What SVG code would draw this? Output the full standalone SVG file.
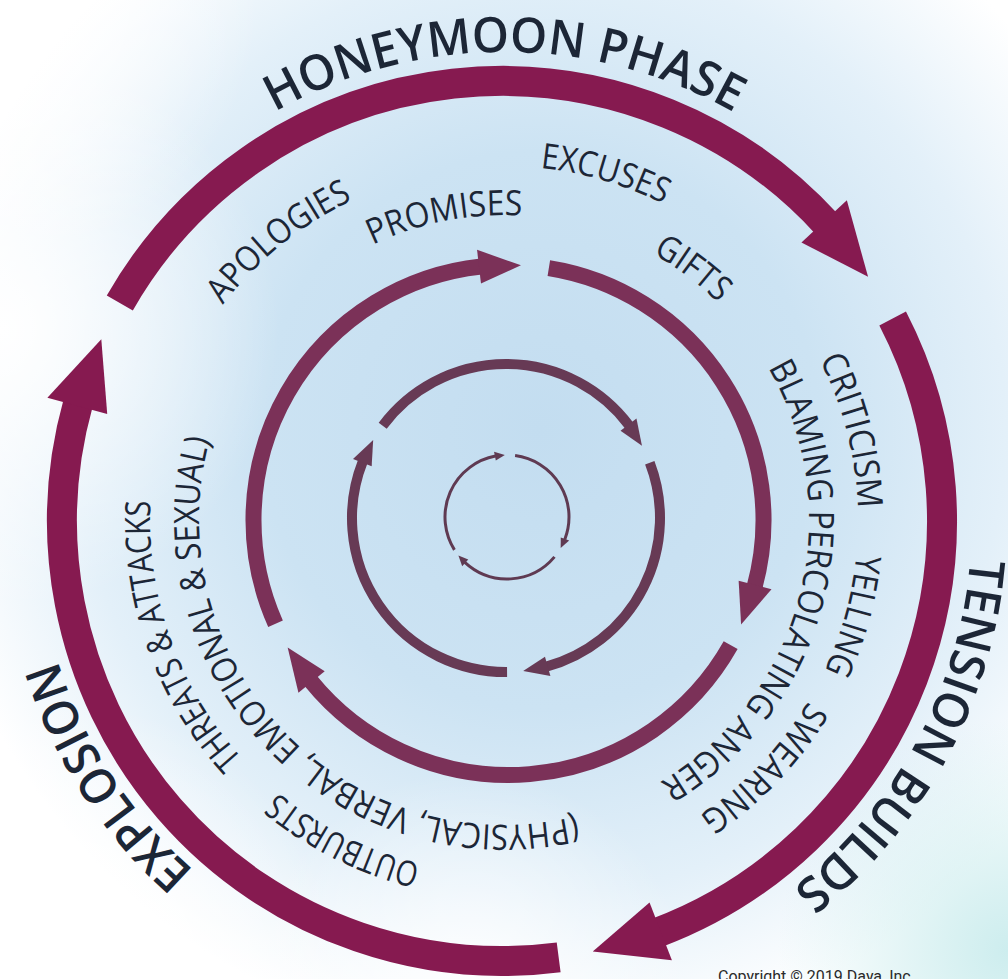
<svg xmlns="http://www.w3.org/2000/svg" xmlns:xlink="http://www.w3.org/1999/xlink" width="1008" height="979" viewBox="0 0 1008 979">
<style>
.o{fill:none;stroke:#861A50;stroke-width:30;stroke-linecap:butt}
.oh{fill:#861A50}
.r3{fill:none;stroke:#7B3158;stroke-width:16;stroke-linecap:butt}
.r3h{fill:#7B3158}
.r2{fill:none;stroke:#673A55;stroke-width:10;stroke-linecap:butt}
.r2h{fill:#673A55}
.r1{fill:none;stroke:#5F3A52;stroke-width:3;stroke-linecap:butt}
.r1h{fill:#5F3A52}
.title{font-family:'Open Sans','Liberation Sans',sans-serif;font-size:49px;font-weight:600;fill:#1C2636}
.lbl{font-family:'Open Sans','Liberation Sans',sans-serif;font-size:35px;font-weight:500;fill:#1C2636}
.copy{font-family:Roboto,'Liberation Sans',sans-serif;font-size:16px;fill:#2a2a2a}
</style>
<defs>
<radialGradient id="bg" gradientUnits="userSpaceOnUse" cx="540" cy="430" r="620">
<stop offset="0" stop-color="#C3DDF0"/>
<stop offset="0.45" stop-color="#CCE3F3"/>
<stop offset="0.75" stop-color="#E3F0F9"/>
<stop offset="1" stop-color="#FFFFFF"/>
</radialGradient>
<radialGradient id="teal" gradientUnits="userSpaceOnUse" cx="1008" cy="950" r="230">
<stop offset="0" stop-color="#CDEDEE" stop-opacity="1"/>
<stop offset="1" stop-color="#CDEDEE" stop-opacity="0"/>
</radialGradient>
<radialGradient id="wl" gradientUnits="userSpaceOnUse" cx="0" cy="330" r="280">
<stop offset="0" stop-color="#FFFFFF" stop-opacity="1"/>
<stop offset="1" stop-color="#FFFFFF" stop-opacity="0"/>
</radialGradient>
<radialGradient id="wb" gradientUnits="userSpaceOnUse" cx="60" cy="979" r="280">
<stop offset="0" stop-color="#FFFFFF" stop-opacity="1"/>
<stop offset="1" stop-color="#FFFFFF" stop-opacity="0"/>
</radialGradient>
<radialGradient id="wt" gradientUnits="userSpaceOnUse" cx="0" cy="0" r="260">
<stop offset="0" stop-color="#FFFFFF" stop-opacity="1"/>
<stop offset="1" stop-color="#FFFFFF" stop-opacity="0"/>
</radialGradient>
<radialGradient id="wc" gradientUnits="userSpaceOnUse" cx="470" cy="990" r="220">
<stop offset="0" stop-color="#FFFFFF" stop-opacity="0.9"/>
<stop offset="1" stop-color="#FFFFFF" stop-opacity="0"/>
</radialGradient>
<path id="c468" d="M 972 520 A 468 468 0 0 1 36 520 A 468 468 0 0 1 972 520 A 468 468 0 0 1 36 520 A 468 468 0 0 1 972 520"/>
<path id="c354" d="M 858 520 A 354 354 0 0 1 150 520 A 354 354 0 0 1 858 520 A 354 354 0 0 1 150 520 A 354 354 0 0 1 858 520"/>
<path id="c305" d="M 809 520 A 305 305 0 0 1 199 520 A 305 305 0 0 1 809 520 A 305 305 0 0 1 199 520 A 305 305 0 0 1 809 520"/>
</defs>

<g id="background">
<rect width="1008" height="979" fill="#FFFFFF"/>
<rect width="1008" height="979" fill="url(#bg)"/>
<rect width="1008" height="979" fill="url(#teal)"/>
<rect width="1008" height="979" fill="url(#wl)"/>
<rect width="1008" height="979" fill="url(#wb)"/>
<rect width="1008" height="979" fill="url(#wt)"/>
<rect width="1008" height="979" fill="url(#wc)"/>
</g>

<g id="connectors">
<g id="ring-outer">
<path class="o" d="M 119.80 303.00 A 440 440 0 0 1 826.75 224.07"/>
<polygon class="oh" points="868.06,276.87 846.84,200.18 801.45,242.41"/>
<path class="o" d="M 892.64 318.51 A 440 440 0 0 1 657.13 932.74"/>
<polygon class="oh" points="592.73,951.54 671.91,960.29 649.54,902.46"/>
<path class="o" d="M 558.67 957.33 A 440 440 0 0 1 78.32 402.27"/>
<polygon class="oh" points="101.30,339.24 47.39,397.87 107.23,414.08"/>
</g>
<g id="ring-3">
<path class="r3" d="M 275.54 623.72 A 255 255 0 0 1 481.23 266.46"/>
<polygon class="r3h" points="520.96,265.30 477.05,249.83 480.98,283.60"/>
<path class="r3" d="M 548.83 268.21 A 255 255 0 0 1 754.51 587.12"/>
<polygon class="r3h" points="741.09,624.53 771.52,589.30 738.65,580.64"/>
<path class="r3" d="M 730.66 645.18 A 255 255 0 0 1 310.18 680.29"/>
<polygon class="r3h" points="287.66,647.50 298.44,692.80 324.70,671.20"/>
</g>
<g id="ring-2">
<path class="r2" d="M 382.69 425.75 A 154 154 0 0 1 629.31 425.75"/>
<polygon class="r2h" points="641.97,445.70 636.46,418.62 620.55,430.74"/>
<path class="r2" d="M 649.77 462.81 A 154 154 0 0 1 546.38 666.61"/>
<polygon class="r2h" points="523.17,671.04 550.38,675.88 544.97,656.63"/>
<path class="r2" d="M 507.07 672.00 A 154 154 0 0 1 362.81 461.31"/>
<polygon class="r2h" points="373.17,440.07 353.00,458.96 371.66,466.16"/>
</g>
<g id="ring-1">
<path class="r1" d="M 454.42 549.86 A 62 62 0 0 1 495.45 456.09"/>
<polygon class="r1h" points="504.84,455.04 494.04,451.78 495.79,460.60"/>
<path class="r1" d="M 515.09 455.53 A 62 62 0 0 1 564.78 539.48"/>
<polygon class="r1h" points="560.69,548.00 569.18,540.57 560.77,537.38"/>
<path class="r1" d="M 554.49 556.85 A 62 62 0 0 1 464.83 562.45"/>
<polygon class="r1h" points="458.41,555.51 462.19,566.13 468.25,559.48"/>
</g>
</g>

<g id="phase-honeymoon">
<text class="title" text-anchor="middle"><textPath href="#c468" startOffset="2205.4" textLength="480" lengthAdjust="spacingAndGlyphs">HONEYMOON PHASE</textPath></text>
<text class="lbl" text-anchor="middle"><textPath href="#c354" startOffset="1426.6" textLength="168" lengthAdjust="spacingAndGlyphs">APOLOGIES</textPath></text>
<text class="lbl" text-anchor="middle"><textPath href="#c354" startOffset="1768.0" textLength="129" lengthAdjust="spacingAndGlyphs">EXCUSES</textPath></text>
<text class="lbl" text-anchor="middle"><textPath href="#c305" startOffset="1377.4" textLength="154" lengthAdjust="spacingAndGlyphs">PROMISES</textPath></text>
<text class="lbl" text-anchor="middle"><textPath href="#c305" startOffset="1632.7" textLength="82" lengthAdjust="spacingAndGlyphs">GIFTS</textPath></text>
</g>

<g id="phase-tension">
<text class="title" text-anchor="middle"><textPath href="#c468" startOffset="231.6" textLength="386" lengthAdjust="spacingAndGlyphs">TENSION BUILDS</textPath></text>
<text class="lbl" text-anchor="middle"><textPath href="#c354" startOffset="2133.8" textLength="155" lengthAdjust="spacingAndGlyphs">CRITICISM</textPath></text>
<text class="lbl" text-anchor="middle"><textPath href="#c354" startOffset="95.1" textLength="121" lengthAdjust="spacingAndGlyphs">YELLING</textPath></text>
<text class="lbl" text-anchor="middle"><textPath href="#c354" startOffset="269.7" textLength="159" lengthAdjust="spacingAndGlyphs">SWEARING</textPath></text>
<text class="lbl" text-anchor="middle"><textPath href="#c305" startOffset="1993.1" textLength="475" lengthAdjust="spacingAndGlyphs">BLAMING PERCOLATING ANGER</textPath></text>
</g>

<g id="phase-explosion">
<text class="title" text-anchor="middle"><textPath href="#c468" startOffset="1200.7" textLength="254" lengthAdjust="spacingAndGlyphs">EXPLOSION</textPath></text>
<text class="lbl" text-anchor="middle"><textPath href="#c354" startOffset="720.4" textLength="161" lengthAdjust="spacingAndGlyphs">OUTBURSTS</textPath></text>
<text class="lbl" text-anchor="middle"><textPath href="#c354" startOffset="990.1" textLength="281" lengthAdjust="spacingAndGlyphs">THREATS &amp; ATTACKS</textPath></text>
<text class="lbl" text-anchor="middle"><textPath href="#c305" startOffset="722.6" textLength="633" lengthAdjust="spacingAndGlyphs">(PHYSICAL, VERBAL, EMOTIONAL &amp; SEXUAL)</textPath></text>
</g>

<g id="copyright">
<text class="copy" x="718" y="982">Copyright © 2019 Daya, Inc</text>
</g>
</svg>
